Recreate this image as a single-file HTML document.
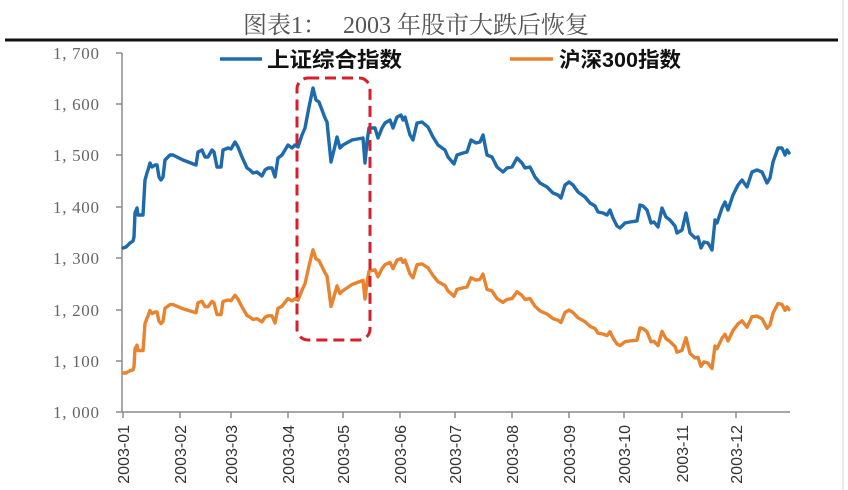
<!DOCTYPE html>
<html><head><meta charset="utf-8"><style>
html,body{margin:0;padding:0;background:#fff;}
svg{display:block;}
</style></head><body>
<svg width="848" height="490" viewBox="0 0 848 490" xmlns="http://www.w3.org/2000/svg">
<rect width="848" height="490" fill="#fff"/>
<line x1="843" y1="0" x2="843" y2="490" stroke="#d8d8d8" stroke-width="1"/>
<!-- title -->
<text x="243" y="33" font-family="'Liberation Serif','Noto Serif CJK SC',serif" font-size="24" fill="#555">图表1：</text>
<text x="343" y="33" font-family="'Liberation Serif','Noto Serif CJK SC',serif" font-size="24" fill="#555">2003 年股市大跌后恢复</text>
<line x1="5" y1="40" x2="838" y2="40" stroke="#111" stroke-width="3"/>
<!-- legend -->
<line x1="220" y1="59" x2="262" y2="59" stroke="#1f6db0" stroke-width="3.5"/>
<text x="267" y="67" font-family="'Liberation Sans','Noto Sans CJK SC',sans-serif" font-size="21" font-weight="bold" fill="#111" textLength="135" lengthAdjust="spacingAndGlyphs">上证综合指数</text>
<line x1="510" y1="59" x2="553" y2="59" stroke="#e8842f" stroke-width="3.5"/>
<text x="559" y="67" font-family="'Liberation Sans','Noto Sans CJK SC',sans-serif" font-size="21" font-weight="bold" fill="#111" textLength="122" lengthAdjust="spacingAndGlyphs">沪深300指数</text>
<!-- axes -->
<g stroke="#8a8a8a" stroke-width="1.5" fill="none">
<line x1="122" y1="53" x2="122" y2="412"/>
<line x1="122" y1="412" x2="790" y2="412"/>
<line x1="116" y1="53" x2="122" y2="53"/>
<line x1="116" y1="104" x2="122" y2="104"/>
<line x1="116" y1="155" x2="122" y2="155"/>
<line x1="116" y1="207" x2="122" y2="207"/>
<line x1="116" y1="258" x2="122" y2="258"/>
<line x1="116" y1="310" x2="122" y2="310"/>
<line x1="116" y1="361" x2="122" y2="361"/>
<line x1="116" y1="412" x2="122" y2="412"/>
<line x1="123" y1="412" x2="123" y2="418"/>
<line x1="180" y1="412" x2="180" y2="418"/>
<line x1="231" y1="412" x2="231" y2="418"/>
<line x1="288" y1="412" x2="288" y2="418"/>
<line x1="343" y1="412" x2="343" y2="418"/>
<line x1="400" y1="412" x2="400" y2="418"/>
<line x1="455" y1="412" x2="455" y2="418"/>
<line x1="512" y1="412" x2="512" y2="418"/>
<line x1="569" y1="412" x2="569" y2="418"/>
<line x1="624" y1="412" x2="624" y2="418"/>
<line x1="682" y1="412" x2="682" y2="418"/>
<line x1="736" y1="412" x2="736" y2="418"/>
</g>
<!-- y labels -->
<g font-family="'Liberation Serif',serif" font-size="17" fill="#666" text-anchor="end">
<text x="99" y="59" textLength="46" lengthAdjust="spacing">1, 700</text>
<text x="99" y="110" textLength="46" lengthAdjust="spacing">1, 600</text>
<text x="99" y="161" textLength="46" lengthAdjust="spacing">1, 500</text>
<text x="99" y="213" textLength="46" lengthAdjust="spacing">1, 400</text>
<text x="99" y="264" textLength="46" lengthAdjust="spacing">1, 300</text>
<text x="99" y="316" textLength="46" lengthAdjust="spacing">1, 200</text>
<text x="99" y="367" textLength="46" lengthAdjust="spacing">1, 100</text>
<text x="99" y="418" textLength="46" lengthAdjust="spacing">1, 000</text>
</g>
<!-- x labels -->
<g font-family="'Liberation Sans',sans-serif" font-size="16" fill="#333" text-anchor="end">
<text transform="translate(129,425) rotate(-90)">2003-01</text>
<text transform="translate(186,425) rotate(-90)">2003-02</text>
<text transform="translate(237,425) rotate(-90)">2003-03</text>
<text transform="translate(294,425) rotate(-90)">2003-04</text>
<text transform="translate(349,425) rotate(-90)">2003-05</text>
<text transform="translate(406,425) rotate(-90)">2003-06</text>
<text transform="translate(461,425) rotate(-90)">2003-07</text>
<text transform="translate(518,425) rotate(-90)">2003-08</text>
<text transform="translate(575,425) rotate(-90)">2003-09</text>
<text transform="translate(630,425) rotate(-90)">2003-10</text>
<text transform="translate(688,425) rotate(-90)">2003-11</text>
<text transform="translate(742,425) rotate(-90)">2003-12</text>
</g>
<!-- orange series -->
<polyline fill="none" stroke="#e8842f" stroke-width="3.4" stroke-linejoin="round" stroke-linecap="round" points="123,373 126,373 130,370.7 133,369.9 134,367 135,348.8 137,345.2 138,350.6 143,350.6 145,323.6 147,318.2 148,315.9 150,310.5 152,313.6 155,312 157,312 159,321.3 161,323.6 163,321.3 165,308.3 170,304.6 173,304.6 183,308.8 196,312.7 198,302.7 202,301.3 205,306.7 208,306.7 212,301.4 214,302.9 217,314.5 221,314.5 223,301.5 228,300 231,300.7 235,295.3 238,299.2 242,307 247,315.5 250,317.1 253,319.4 257,318.7 262,321.8 265,317.3 268,315.8 272,315.8 275,323 278,308.4 282,306.2 285,302.3 288,298.6 292,300.9 295,298.7 298,300.2 302,290.2 305,283.7 309,265.9 313,249.8 316,259 319,260.5 325,272.9 327,275.9 331,306.5 334,296.5 337,285.8 340,293.6 343,290.6 352,284.5 363,280.4 365,299.1 367,282.4 369,271.2 375,269.8 378,276.8 382,268.6 385,264.7 390,262.4 393,268.6 397,260.1 401,258.6 403,262.4 405,260.1 410,274 413,277.8 417,264.7 422,263.9 428,267.8 433,275.5 438,281.7 445,285.5 448,290.9 454,296.3 457,289.4 463,287.8 467,287 471,277.8 476,280.1 480,279.3 483,274 487,289.4 492,290.9 497,298.6 503,302.4 507,299.4 512,298.6 517,291.7 522,295.5 525,299.4 530,298.6 535,306.3 540,310.9 547,314 553,318.6 558,320.2 561,322.5 565,312.5 569,310.1 573,312.5 578,317.8 585,321.7 590,326.3 595,328.6 598,333.2 603,334 607,335.6 610,331.7 613,337.9 617,344 620,345.6 625,341.7 630,340.9 637,340.2 640,327.9 643,328.6 647,331.7 651,341.8 654,341.3 658,345.6 662,331.4 666,338.7 670,341.5 675,346.6 677,352.2 682,350.4 686,337.7 690,353.5 695,357.9 698,357.4 701,366.3 704,361.9 708,363.1 712,368.5 715,346 717,348.7 722,338.3 725,334.2 728,341 733,330.5 738,323.8 742,320.8 747,327.2 752,316.7 757,316.1 762,318.7 767,328.2 770,325 773,313.2 778,303.5 782,304.4 785,310.4 787,306.9 789,309.6"/>
<!-- blue series -->
<polyline fill="none" stroke="#1d6aad" stroke-width="3.4" stroke-linejoin="round" stroke-linecap="round" points="123,248 126,247 130,243 133,241 134,237 135,213 137,208 138,215 143,215 145,180 147,173 148,170 150,163 152,167 155,165 157,165 159,177 161,180 163,177 165,160 170,155 173,155 183,160 196,165 198,152 202,150 205,157 208,157 212,150 214,152 217,167 221,167 223,150 228,148 231,149 235,142 238,147 242,157 247,168 250,170 253,173 257,172 262,176 265,170 268,168 272,168 275,177 278,158 282,155 285,150 288,145 292,148 295,145 298,147 302,135 305,128 309,107 313,88 316,100 319,102 325,118 327,122 331,162 334,150 337,137 340,148 343,145 352,140 363,138 365,163 367,142 369,128 375,128 378,138 382,128 385,123 390,120 393,128 397,117 401,115 403,120 405,117 410,135 413,140 417,123 422,122 428,127 433,137 438,145 445,150 448,157 454,164 457,155 463,153 467,152 471,140 476,143 480,142 483,135 487,155 492,157 497,167 503,172 507,168 512,167 517,158 522,163 525,168 530,167 535,177 540,183 547,187 553,193 558,195 561,198 565,185 569,182 573,185 578,192 585,197 590,203 595,206 598,212 603,213 607,215 610,210 613,218 617,226 620,228 625,223 630,222 637,221 640,205 643,206 647,210 651,223 654,222 658,227 662,208 666,217 670,220 675,226 677,233 682,230 686,213 690,233 695,238 698,237 701,248 704,242 708,243 712,250 715,220 717,223 722,208 725,202 728,210 733,195 738,185 742,180 747,187 752,172 757,170 762,172 767,183 770,178 773,162 778,148 782,148 785,155 787,150 789,153"/>
<!-- dashed highlight box -->
<rect x="297" y="78" width="73" height="262" rx="11" ry="11" fill="none" stroke="#d41f2c" stroke-width="3" stroke-dasharray="11 6"/>
</svg>
</body></html>
